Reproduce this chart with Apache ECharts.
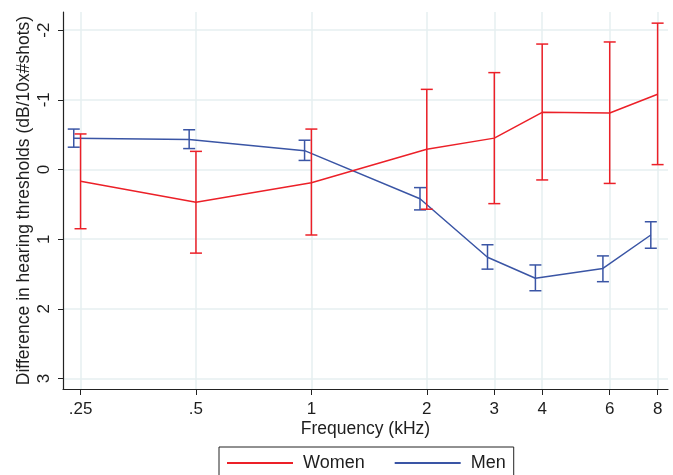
<!DOCTYPE html>
<html>
<head>
<meta charset="utf-8">
<script src="https://cdn.jsdelivr.net/npm/echarts@6/dist/echarts.min.js"></script>
<style>
html, body { margin: 0; padding: 0; background: #fff; }
#chart { width: 673px; height: 475px; }
</style>
</head>
<body>
<div id="chart"></div>
<script>
// frequencies (kHz) and their tick labels
const freqs = [0.25, 0.5, 1, 2, 3, 4, 6, 8];
const freqLabels = ['.25', '.5', '1', '2', '3', '4', '6', '8'];
// women: mean difference and CI bounds
const womenMean = [0.17, 0.47, 0.19, -0.29, -0.45, -0.82, -0.81, -1.08];
const womenLow = [-0.51, -0.26, -0.58, -1.15, -1.39, -1.80, -1.83, -2.10];
const womenHigh = [0.85, 1.20, 0.94, 0.57, 0.49, 0.15, 0.20, -0.07];
// men: mean difference and CI bounds
const menMean = [-0.45, -0.43, -0.27, 0.42, 1.26, 1.56, 1.42, 0.94];
const menLow = [-0.58, -0.57, -0.42, 0.26, 1.08, 1.37, 1.24, 0.75];
const menHigh = [-0.32, -0.30, -0.13, 0.58, 1.43, 1.74, 1.61, 1.13];
const yTicks = [-2, -1, 0, 1, 2, 3];

const RED = '#ec2028';
const BLUE = '#3a55a5';
const TEXT = '#1e1e1e';
const FONT = 'Liberation Sans';
// men are drawn slightly left of the tick so the bars don't overlap
const MEN_SHIFT = 0.96;

const xTicks = freqs.map(f => Math.log2(f));

function lineData(mean, shift) {
    return freqs.map((f, i) => [Math.log2(f * shift), mean[i]]);
}
function barData(low, high, shift) {
    return freqs.map((f, i) => [Math.log2(f * shift), low[i], high[i]]);
}
function errorBars(color) {
    return function (params, api) {
        const x = api.value(0);
        const lo = api.coord([x, api.value(1)]);
        const hi = api.coord([x, api.value(2)]);
        const w = 6;
        const style = { stroke: color, lineWidth: 1.5 };
        return {
            type: 'group',
            children: [
                { type: 'line', shape: { x1: lo[0], y1: lo[1], x2: hi[0], y2: hi[1] }, style },
                { type: 'line', shape: { x1: lo[0] - w, y1: lo[1], x2: lo[0] + w, y2: lo[1] }, style },
                { type: 'line', shape: { x1: hi[0] - w, y1: hi[1], x2: hi[0] + w, y2: hi[1] }, style }
            ]
        };
    };
}

const chart = echarts.init(document.getElementById('chart'));
chart.setOption({
    animation: false,
    textStyle: { fontFamily: FONT, color: TEXT },
    grid: { left: 63, right: 5, top: 12, bottom: 86, containLabel: false },
    legend: {
        data: ['Women', 'Men'],
        left: 219,
        top: 447,
        padding: [7, 8, 30, 8],
        borderColor: '#222',
        borderWidth: 1,
        itemWidth: 66,
        itemHeight: 2,
        itemGap: 30,
        icon: 'rect',
        textStyle: { fontFamily: FONT, fontSize: 18, color: TEXT, padding: [0, 0, 0, 5] }
    },
    xAxis: {
        type: 'value',
        min: -2.152,
        max: 3.09,
        name: 'Frequency (kHz)',
        nameLocation: 'middle',
        nameGap: 31,
        nameMoveOverlap: false,
        nameTextStyle: { fontFamily: FONT, fontSize: 17.5, color: TEXT },
        axisLine: { onZero: false, lineStyle: { color: '#222', width: 1.2 } },
        axisTick: { length: 6, customValues: xTicks, lineStyle: { color: '#222' } },
        axisLabel: {
            customValues: xTicks,
            margin: 12,
            fontSize: 17,
            color: TEXT,
            formatter: v => {
                const i = xTicks.findIndex(t => Math.abs(t - v) < 1e-6);
                return i >= 0 ? freqLabels[i] : '';
            }
        },
        splitLine: { show: true, lineStyle: { color: '#e6eff1', width: 1.5 } }
    },
    yAxis: {
        type: 'value',
        inverse: true,
        min: -2.26,
        max: 3.15,
        name: 'Difference in hearing thresholds (dB/10x#shots)',
        nameLocation: 'middle',
        nameRotate: 90,
        nameGap: 30,
        nameMoveOverlap: false,
        nameTextStyle: { fontFamily: FONT, fontSize: 17.5, color: TEXT },
        axisLine: { show: true, onZero: false, lineStyle: { color: '#222', width: 1.2 } },
        axisTick: { show: true, length: 5, customValues: yTicks, lineStyle: { color: '#222' } },
        axisLabel: {
            customValues: yTicks,
            rotate: 90,
            margin: 10,
            fontSize: 17,
            color: TEXT
        },
        splitLine: { show: true, lineStyle: { color: '#e6eff1', width: 1.5 } }
    },
    series: [
        {
            name: 'Men',
            type: 'line',
            data: lineData(menMean, MEN_SHIFT),
            symbol: 'none',
            color: BLUE,
            lineStyle: { width: 1.5, color: BLUE },
            z: 2
        },
        {
            name: 'Men CI',
            type: 'custom',
            data: barData(menLow, menHigh, MEN_SHIFT),
            renderItem: errorBars(BLUE),
            encode: { x: 0, y: [1, 2] },
            z: 2
        },
        {
            name: 'Women',
            type: 'line',
            data: lineData(womenMean, 1),
            symbol: 'none',
            color: RED,
            lineStyle: { width: 1.5, color: RED },
            z: 3
        },
        {
            name: 'Women CI',
            type: 'custom',
            data: barData(womenLow, womenHigh, 1),
            renderItem: errorBars(RED),
            encode: { x: 0, y: [1, 2] },
            z: 3
        }
    ]
});
</script>
</body>
</html>
